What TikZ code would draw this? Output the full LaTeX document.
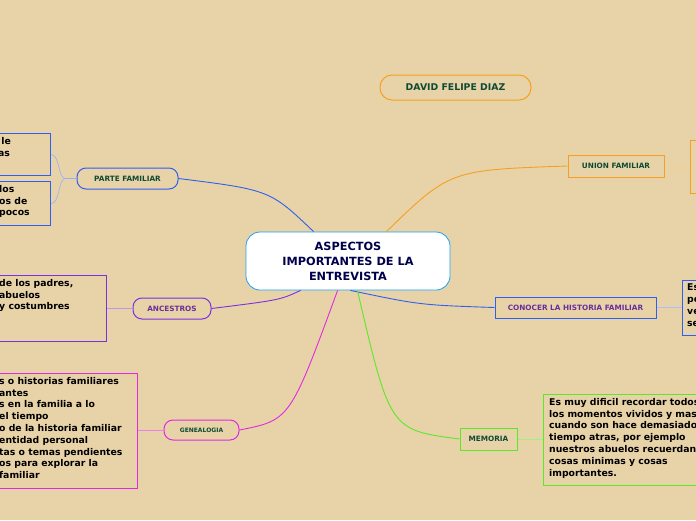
\documentclass[tikz,border=0pt]{standalone}
\usepackage{fontspec}
\setmainfont{DejaVu Sans}
\begin{document}
\begin{tikzpicture}[x=1pt,y=-1pt,
 lab/.style={font=\bfseries\fontsize{7.3}{9}\selectfont,inner sep=0pt,line width=1pt},
 rlab/.style={lab,draw,rounded corners=9pt},
 box/.style={line width=1.2pt,inner sep=0pt,anchor=north west},
 btxt/.style={font=\bfseries\fontsize{9.3}{11.8}\selectfont,align=left,anchor=north west,inner sep=0pt}]
\definecolor{bg}{HTML}{E8D3A8}
\definecolor{dg}{HTML}{0F4A33}
\definecolor{bl}{HTML}{2F5FF0}
\definecolor{pu}{HTML}{7A2FE0}
\definecolor{pt}{HTML}{6A2E99}
\definecolor{mg}{HTML}{E02AE0}
\definecolor{og}{HTML}{F5A020}
\definecolor{gr}{HTML}{5AE82A}
\fill[bg] (0,0) rectangle (696,520);
\clip (0,0) rectangle (696,520);
% central
\node[draw=bl!60!cyan,fill=white,rounded corners=14pt,line width=0.8pt,minimum width=204pt,minimum height=58pt,align=center,font=\bfseries\fontsize{11.3}{15}\selectfont,text=blue!30!black] (c) at (348,261) {ASPECTOS\\IMPORTANTES DE LA\\ENTREVISTA};
\node[rlab,draw=og,text=dg,minimum width=151pt,minimum height=25pt,rounded corners=12pt,font=\bfseries\fontsize{9.3}{11}\selectfont] (d) at (455.5,87.5) {DAVID FELIPE DIAZ};
% labels
\node[rlab,draw=bl,text=dg,minimum width=101pt,minimum height=21pt] (pf) at (127.5,178.5) {PARTE FAMILIAR};
\node[rlab,draw=pu,text=pt,minimum width=78pt,minimum height=21pt] (an) at (172,308.5) {ANCESTROS};
\node[rlab,draw=mg,text=dg,minimum width=75pt,minimum height=20pt,font=\bfseries\fontsize{6}{7}\selectfont] (ge) at (201.5,430) {GENEALOGIA};
\node[lab,draw=og,text=dg,minimum width=96pt,minimum height=22pt] (uf) at (616,166) {UNION FAMILIAR};
\node[lab,draw=bl,text=pt,minimum width=161pt,minimum height=21pt] (ch) at (575.5,307.5) {CONOCER LA HISTORIA FAMILIAR};
\node[lab,draw=gr,text=dg,minimum width=57pt,minimum height=22pt] (me) at (488.5,439) {MEMORIA};
% boxes
\node[box,draw=bl,minimum width=80pt,minimum height=42pt] (b1) at (-30,133) {};
\node[btxt] at (-2,137) {\ le\\as};
\node[box,draw=bl,minimum width=80pt,minimum height=44pt] (b2) at (-30,181) {};
\node[btxt] at (-1,185) {los\\os de\\ pocos};
\node[box,draw=pu,minimum width=136pt,minimum height=66pt] (b3) at (-30,275) {};
\node[btxt] at (-1,279) {de los padres,\\abuelos\\y costumbres};
\node[box,draw=mg,minimum width=167pt,minimum height=115pt] (b4) at (-30,373) {};
\node[btxt] at (-1,377) {s o historias familiares\\antes\\s en la familia a lo\\el tiempo\\o de la historia familiar\\entidad personal\\tas o temas pendientes\\os para explorar la\\ familiar};
\node[box,draw=og,minimum width=60pt,minimum height=53pt] (b5) at (690,140) {};
\node[box,draw=bl,minimum width=60pt,minimum height=55pt] (b6) at (682,280) {};
\node[btxt] at (687,284) {Es\\pe\\ve\\se};
\node[box,draw=gr,minimum width=200pt,minimum height=91pt] (b7) at (543,394) {};
\node[btxt] at (549,398) {Es muy dificil recordar todos\\los momentos vividos y mas\\cuando son hace demasiado\\tiempo atras, por ejemplo\\nuestros abuelos recuerdan\\cosas minimas y cosas\\importantes.};
% connectors
\draw[bl,line width=0.9pt] (c.north west)++(68,0) .. controls (270,190) .. (pf.east);
\draw[og,line width=0.9pt] (c.north east)++(-64,0) .. controls (450,170) .. (uf.west);
\draw[bl,line width=0.9pt] (c.south east)++(-100,0) .. controls (420,305) .. (ch.west);
\draw[gr,line width=0.9pt] (c.south east)++(-93,0) .. controls (390,430) .. (me.west);
\draw[mg,line width=0.9pt] (c.south west)++(92,0) .. controls (290,420) .. (ge.east);
\draw[pu,line width=0.9pt] (c.south west)++(55,0) .. controls (280,300) .. (an.east);
\draw[bl!50,line width=0.6pt] (pf.west) -- (65,178.5) .. controls (58,178) and (60,155) .. (b1.east);
\draw[bl!50,line width=0.6pt] (65,178.5) .. controls (58,180) and (60,203) .. (b2.east);
\draw[pu!50,line width=0.6pt] (an.west) -- (b3.east|-an.west);
\draw[mg!60,line width=0.6pt] (ge.west) -- (b4.east|-ge.west);
\draw[og!50,line width=0.8pt] (uf.east) -- (b5.west|-uf.east);
\draw[bl!40,line width=0.8pt] (ch.east) -- (b6.west|-ch.east);
\draw[gr!60,line width=0.6pt] (me.east) -- (b7.west|-me.east);
\end{tikzpicture}
\end{document}
